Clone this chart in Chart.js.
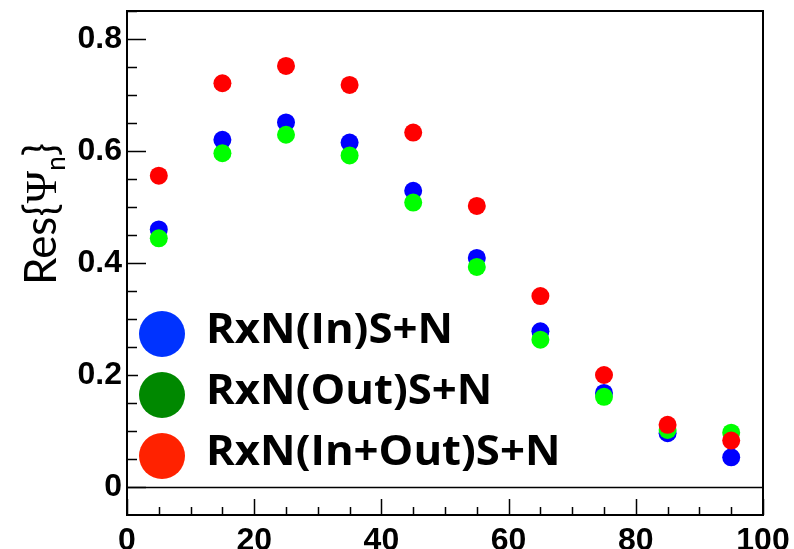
<!DOCTYPE html>
<html>
<head>
<meta charset="utf-8">
<script src="https://cdn.jsdelivr.net/npm/chart.js@4.4.0/dist/chart.umd.min.js"></script>
<style>
  html, body { margin: 0; padding: 0; background: #fff; overflow: hidden; width: 794px; height: 549px; }
  canvas { display: block; }
</style>
</head>
<body>
<canvas id="c" width="794" height="560"></canvas>
<script>
// Event-plane resolution vs. centrality
const centrality = [5, 15, 25, 35, 45, 55, 65, 75, 85, 95];
const resIn      = [0.460, 0.620, 0.651, 0.615, 0.529, 0.409, 0.278, 0.168, 0.096, 0.053];
const resOut     = [0.444, 0.596, 0.629, 0.592, 0.508, 0.393, 0.263, 0.161, 0.102, 0.097];
const resInOut   = [0.556, 0.721, 0.752, 0.718, 0.633, 0.502, 0.341, 0.200, 0.111, 0.083];

const seriesNames   = ['RxN(In)S+N', 'RxN(Out)S+N', 'RxN(In+Out)S+N'];
const markerColors  = ['#0000ff', '#00ff00', '#ff0000'];
const legendColors  = ['#0033ff', '#008800', '#ff2200'];

const xTicks = [0, 20, 40, 60, 80, 100];
const xTickLabels = ['0', '20', '40', '60', '80', '100'];
const yTicks = [0, 0.2, 0.4, 0.6, 0.8];
const yTickLabels = ['0', '0.2', '0.4', '0.6', '0.8'];

const tickFont = { family: '"Liberation Sans", Arial, sans-serif', weight: 'bold', size: 32 };

function points(ys) {
  return centrality.map((x, i) => ({ x: x, y: ys[i] }));
}

// Frame, inward tick marks, zero line, axis title and legend
const decorations = {
  id: 'decorations',
  afterDraw(chart) {
    const ctx = chart.ctx;
    const a = chart.chartArea;
    const xs = chart.scales.x, ys = chart.scales.y;
    ctx.save();
    ctx.strokeStyle = '#000';

    // tick marks
    ctx.lineWidth = 1.5;
    ctx.beginPath();
    for (let v = 0; v <= 100.001; v += 5) {
      const px = Math.round(xs.getPixelForValue(v)) + 0.5;
      const len = (Math.abs(v % 20) < 1e-6) ? 16 : 8;
      ctx.moveTo(px, a.bottom);
      ctx.lineTo(px, a.bottom - len);
    }
    for (let k = -1; k <= 17; k++) {
      const v = k * 0.05;
      const py = Math.round(ys.getPixelForValue(v)) + 0.5;
      if (py < a.top || py > a.bottom) continue;
      const len = (k % 4 === 0) ? 19 : 10;
      ctx.moveTo(a.left, py);
      ctx.lineTo(a.left + len, py);
    }
    ctx.stroke();

    // zero line
    const y0 = Math.round(ys.getPixelForValue(0)) + 0.5;
    ctx.beginPath();
    ctx.moveTo(a.left, y0);
    ctx.lineTo(a.right, y0);
    ctx.stroke();

    // frame
    ctx.lineWidth = 2;
    ctx.strokeRect(a.left, a.top, a.right - a.left, a.bottom - a.top);

    // legend
    ctx.fillStyle = '#fff';
    ctx.fillRect(a.left + 11, 305, 60, 180);
    const rows = [334, 395, 456];
    ctx.textBaseline = 'alphabetic';
    ctx.textAlign = 'left';
    ctx.font = 'bold 42px "Open Sans", Lato, sans-serif';
    const stretch = 247 / ctx.measureText(seriesNames[0]).width;
    for (let i = 0; i < seriesNames.length; i++) {
      ctx.fillStyle = legendColors[i];
      ctx.beginPath();
      ctx.arc(162, rows[i], 23, 0, Math.PI * 2);
      ctx.fill();
      ctx.fillStyle = '#000';
      ctx.save();
      ctx.translate(206, rows[i] + 9);
      ctx.scale(stretch, 1);
      ctx.fillText(seriesNames[i], 0, 0);
      ctx.restore();
    }

    // y axis title: Res{Ψ_n}
    ctx.translate(56, 285);
    ctx.rotate(-Math.PI / 2);
    ctx.fillStyle = '#000';
    ctx.font = '44px Lato, "Open Sans", sans-serif';
    let x = 0;
    ctx.fillText('Res{', x, 0);
    x += ctx.measureText('Res{').width;
    ctx.font = '44px "Liberation Serif", "DejaVu Serif", serif';
    ctx.fillText('Ψ', x, 0);
    x += ctx.measureText('Ψ').width;
    ctx.font = '26px Lato, "Open Sans", sans-serif';
    ctx.fillText('n', x, 9);
    x += ctx.measureText('n').width;
    ctx.font = '44px Lato, "Open Sans", sans-serif';
    ctx.fillText('}', x, 0);

    ctx.restore();
  }
};

new Chart(document.getElementById('c'), {
  type: 'scatter',
  data: {
    datasets: [
      { label: seriesNames[0], data: points(resIn),    backgroundColor: markerColors[0], order: 2 },
      { label: seriesNames[1], data: points(resOut),   backgroundColor: markerColors[1], order: 1 },
      { label: seriesNames[2], data: points(resInOut), backgroundColor: markerColors[2], order: 0 }
    ]
  },
  options: {
    responsive: false,
    devicePixelRatio: 1,
    animation: false,
    layout: { padding: { top: 11, right: 31, left: 0, bottom: 0 } },
    elements: { point: { radius: 9, borderWidth: 0, hoverRadius: 9 } },
    plugins: { legend: { display: false }, tooltip: { enabled: false } },
    scales: {
      x: {
        type: 'linear', min: 0, max: 100,
        afterBuildTicks: s => { s.ticks = xTicks.map(v => ({ value: v })); },
        afterFit: s => { s.height = 45; s.paddingLeft = 0; s.paddingRight = 0; },
        ticks: {
          font: tickFont, color: '#000', padding: 7, maxRotation: 0, autoSkip: false,
          callback: (v, i) => xTickLabels[i]
        },
        grid: { display: false, drawTicks: false },
        border: { display: false }
      },
      y: {
        type: 'linear', min: -0.05, max: 0.85,
        afterBuildTicks: s => { s.ticks = yTicks.map(v => ({ value: v })); },
        afterFit: s => { s.width = 127; s.paddingTop = 0; s.paddingBottom = 0; },
        ticks: {
          font: tickFont, color: '#000', padding: 5, autoSkip: false,
          callback: (v, i) => yTickLabels[i]
        },
        grid: { display: false, drawTicks: false },
        border: { display: false }
      }
    }
  },
  plugins: [decorations]
});
</script>
</body>
</html>
